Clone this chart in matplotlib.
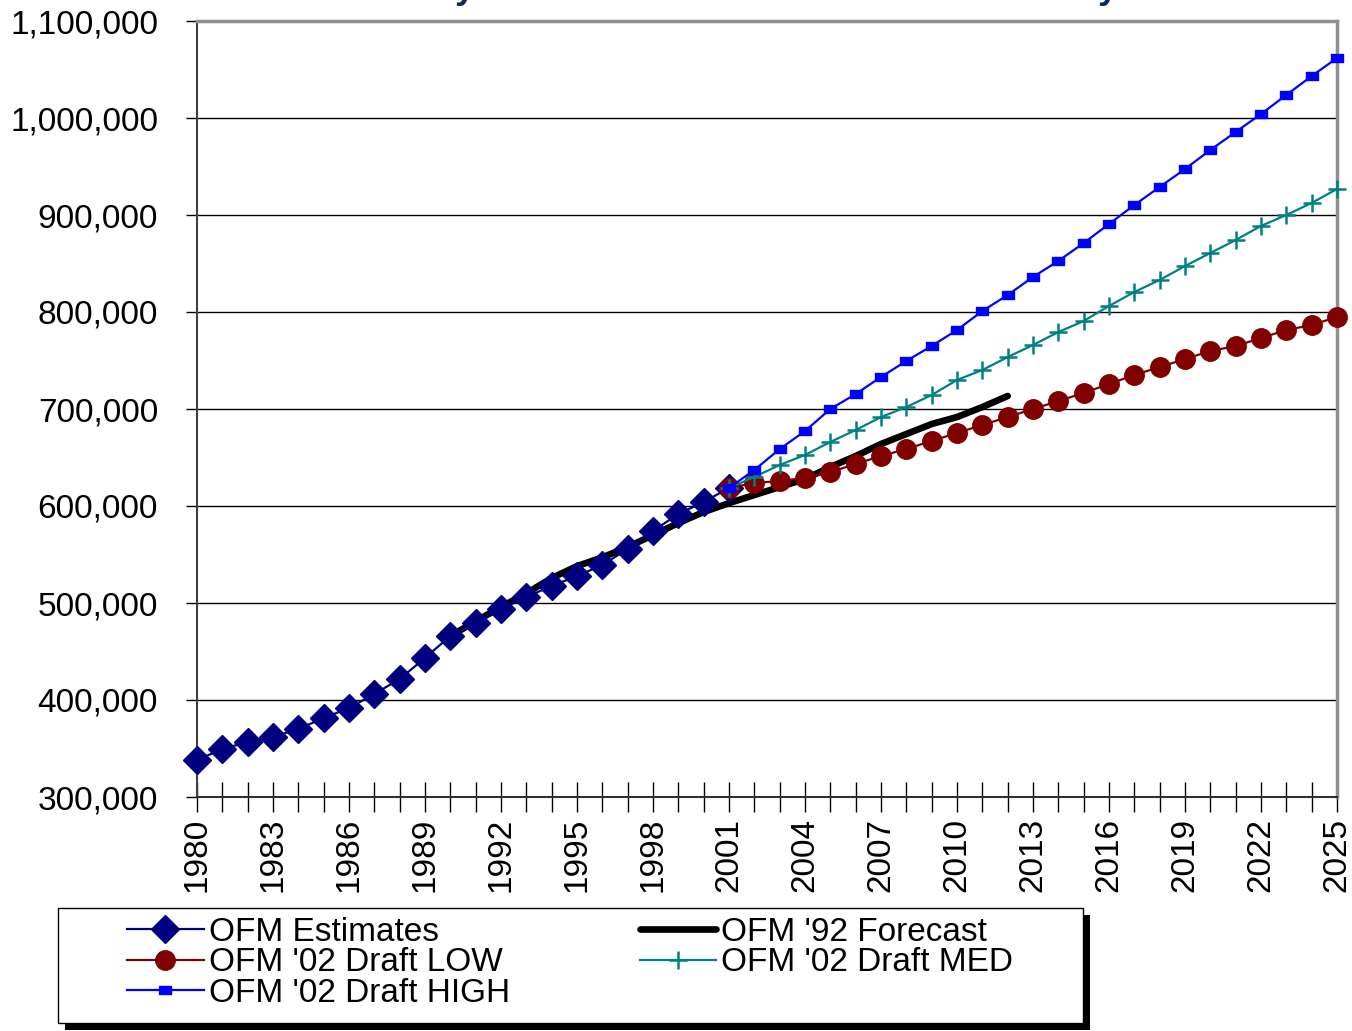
import numpy as np
import matplotlib
matplotlib.use("Agg")
import matplotlib.pyplot as plt
from matplotlib.patches import Rectangle
from matplotlib.path import Path
from matplotlib.ticker import FuncFormatter

plt.rcParams['font.family'] = ['Liberation Sans', 'DejaVu Sans']

# data
est_years = list(range(1980, 2002))
est_pop = [338100, 349500, 356700, 361900, 370100, 381400, 391700, 406200, 421600, 443300,
           466000, 479400, 493800, 506200, 517500, 527800, 539200, 555700, 574200, 591800,
           604100, 618600]

fc92_years = list(range(1990, 2013))
fc92_pop = [466000, 481000, 496000, 510000, 525700, 538000, 547000, 557700, 570000, 582400,
            593800, 603000, 611300, 619600, 627800, 640200, 651500, 663900, 674200, 684500,
            691700, 702000, 713400]

draft_years = list(range(2001, 2026))
low_pop = [618600, 623700, 625800, 628900, 635000, 643300, 651500, 658800, 667000, 675300,
           683500, 691700, 700000, 708200, 716500, 725800, 735000, 743300, 751500, 759800,
           764900, 773200, 781400, 786600, 794800]
med_pop = [618600, 629900, 642300, 652600, 666000, 678300, 691700, 702000, 714400, 729900,
           740200, 753500, 766000, 779300, 790700, 806200, 820600, 833000, 847400, 860800,
           874200, 888700, 900000, 912400, 926800]
high_pop = [618600, 637100, 658700, 677300, 700000, 715400, 733000, 749500, 765000, 781400,
            801000, 817500, 836100, 852600, 871100, 890700, 910300, 928900, 947400, 967000,
            985600, 1004100, 1023700, 1043300, 1061800]

all_years = list(range(1980, 2026))
label_years = list(range(1980, 2026, 3))
y_ticks = list(range(300000, 1100001, 100000))

W, H = 1352, 1031
fig = plt.figure(figsize=(W / 100, H / 100), dpi=100)
ax = fig.add_axes([197 / W, 1 - 797 / H, 1140 / W, 776 / H])

# flat rectangle marker for the HIGH series
rect_marker = Path([(-1.5, -1), (1.5, -1), (1.5, 1), (-1.5, 1), (-1.5, -1)],
                   [Path.MOVETO, Path.LINETO, Path.LINETO, Path.LINETO, Path.CLOSEPOLY])

ax.plot(fc92_years, fc92_pop, color='black', lw=4.8, solid_capstyle='round',
        label="OFM '92 Forecast", zorder=3, clip_on=False)
ax.plot(est_years, est_pop, color='#000080', lw=1.6, marker='D', ms=14,
        label='OFM Estimates', zorder=4, clip_on=False)
ax.plot(draft_years, low_pop, color='#800000', lw=1.6, marker='o', ms=14,
        label="OFM '02 Draft LOW", zorder=4, clip_on=False)
ax.plot(draft_years, med_pop, color='#008080', lw=1.6, marker='+', ms=13, mew=1.8,
        label="OFM '02 Draft MED", zorder=5, clip_on=False)
ax.plot(draft_years, high_pop, color='#0000FF', lw=1.6, marker=rect_marker, ms=9,
        label="OFM '02 Draft HIGH", zorder=6, clip_on=False)

ax.set_xlim(1980, 2025)
ax.set_ylim(300000, 1100000)
ax.set_yticks(y_ticks)
ax.yaxis.set_major_formatter(FuncFormatter(lambda v, p: '{:,.0f}'.format(v)))
ax.set_xticks(all_years)
ax.set_xticklabels([str(y) if y in label_years else '' for y in all_years], rotation=90)
ax.tick_params(axis='y', direction='out', length=8, width=1, pad=20, labelsize=24)
ax.tick_params(axis='x', direction='inout', length=22, width=1, pad=4, labelsize=24)
ax.grid(axis='y', color='black', lw=1)
ax.set_axisbelow(True)

for side in ['top', 'right']:
    ax.spines[side].set_color('#909090')
    ax.spines[side].set_linewidth(2.5)
ax.spines['left'].set_color('#404040')
ax.spines['left'].set_linewidth(1.5)
ax.spines['bottom'].set_color('#303030')
ax.spines['bottom'].set_linewidth(1.5)

# title sits above the visible area, only the descenders show
fig.text(144 / W, 1 + 2 / H, 'Snohomish County Total Estimates and Forecast History', ha='left',
         va='baseline', fontsize=26, fontweight='bold', color='#0B2A5C')

# legend box with a hard shadow
fx0, fy0, fw, fh = 58 / W, 1 - 1023 / H, 1025 / W, 115 / H
fig.add_artist(Rectangle((fx0 + 7 / W, fy0 - 7 / H), fw, fh, transform=fig.transFigure,
                         facecolor='black', edgecolor='none', zorder=8))
fig.add_artist(Rectangle((fx0, fy0), fw, fh, transform=fig.transFigure,
                         facecolor='white', edgecolor='black', lw=1, zorder=9))

handles, labels = ax.get_legend_handles_labels()
order = [1, 2, 4, 0, 3]
leg = fig.legend([handles[i] for i in order], [labels[i] for i in order],
                 loc='upper left', bbox_to_anchor=(127 / W, 1 - 917 / H), ncol=2,
                 frameon=False, fontsize=24, borderpad=0, borderaxespad=0,
                 handlelength=2.3, handletextpad=0.15, columnspacing=3.9,
                 labelspacing=-0.02)
leg.set_zorder(10)

fig.savefig('out.png', dpi=100)
